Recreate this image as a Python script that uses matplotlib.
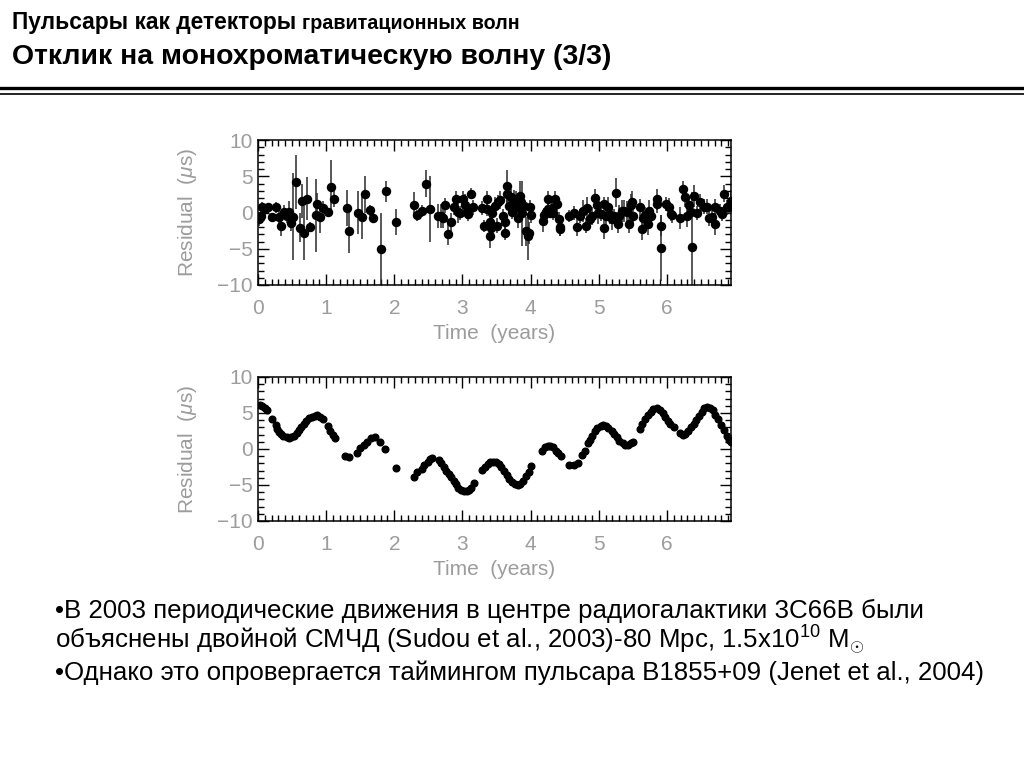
import numpy as np
import matplotlib.pyplot as plt
from matplotlib.ticker import MultipleLocator

plt.rcParams['font.family'] = ['Liberation Sans', 'DejaVu Sans']
plt.rcParams['mathtext.fontset'] = 'custom'
plt.rcParams['mathtext.rm'] = 'Liberation Sans'
plt.rcParams['mathtext.it'] = 'Liberation Sans:italic'

# Верхний график: остатки тайминга (данные с ошибками)
t_obs = [0.01, 0.04, 0.06, 0.10, 0.15, 0.21, 0.26, 0.31, 0.34, 0.38,
         0.42, 0.46, 0.49, 0.52, 0.56, 0.61, 0.64, 0.68, 0.72, 0.77,
         0.85, 0.87, 0.91, 0.95, 1.03, 1.07, 1.12, 1.30, 1.33, 1.46,
         1.53, 1.57, 1.64, 1.68, 1.80, 1.88, 2.02,
         2.29, 2.34, 2.40, 2.47, 2.52, 2.64, 2.68, 2.72, 2.75, 2.79,
         2.83, 2.87, 2.90, 2.94, 2.97, 3.01, 3.03, 3.06, 3.08, 3.12,
         3.16, 3.28, 3.32, 3.36, 3.36, 3.40, 3.40, 3.42, 3.44, 3.47,
         3.50, 3.52, 3.55, 3.59, 3.62, 3.62, 3.66, 3.66, 3.69, 3.71,
         3.73, 3.76, 3.78, 3.81, 3.82, 3.84, 3.86, 3.87, 3.91, 3.93,
         3.96, 3.98, 3.99, 4.01, 4.18, 4.20, 4.23, 4.25, 4.26, 4.29,
         4.31, 4.33, 4.36, 4.38, 4.41, 4.43, 4.43, 4.57, 4.64, 4.68,
         4.72,
         4.77, 4.81, 4.82, 4.87, 4.90, 4.94, 4.97, 4.99, 5.03, 5.07,
         5.07, 5.10, 5.14, 5.16, 5.19, 5.23, 5.25, 5.28, 5.30, 5.34,
         5.37, 5.41, 5.44, 5.47, 5.49, 5.50, 5.60, 5.64, 5.65, 5.68,
         5.72, 5.74, 5.77, 5.86, 5.86, 5.91, 5.91, 5.99, 6.03, 6.06,
         6.07, 6.19, 6.23, 6.26, 6.29, 6.33, 6.36, 6.37, 6.40, 6.44,
         6.49, 6.54, 6.59, 6.62, 6.66, 6.70, 6.71, 6.78, 6.81, 6.83,
         6.88, 6.91, 6.94]
res_obs = [-0.9, -0.5, 0.7, 0.5, 0.7, -0.6, 0.7, -0.6, -1.8, 0.1,
           -0.5, 0.1, -1.5, -0.6, 4.2, -2.1, 1.6, -2.8, 1.9, -2.0,
           -0.4, 1.2, -0.6, 0.6, 0.1, 3.5, 1.9, 0.6, -2.6, 0.0,
           -0.6, 2.5, 0.3, -0.7, -5.1, 2.9, -1.3,
           1.1, -0.4, 0.2, 4.0, 0.5, -0.5, -0.5, -0.7, 1.0, -3.0,
           -1.3, 0.7, 1.9, 0.1, -0.1, 1.9, 1.0, 0.1, -0.2, 2.6,
           0.7, 0.6, -1.9, 1.9, 0.5, -3.2, -1.3, -2.1, -0.1, 0.9,
           -1.8, 1.4, 1.7, -0.5, -1.3, -2.8, 3.6, 2.6, 0.9, 2.1,
           0.1, 1.9, 1.4, 0.7, -0.7, 2.3, 1.4, -0.1, 0.9, -2.6,
           -3.3, -2.8, 0.7, -0.4, -1.2, -0.4, 0.1, 0.5, 1.9, 0.0,
           0.6, -0.1, 1.9, 1.2, -0.9, -2.0, -2.3, -0.5, -0.1, -2.0,
           -0.5,
           0.2, -1.8, 0.6, -0.9, -0.5, 2.0, 1.0, -0.1, -0.2, 1.2,
           -2.2, -0.5, 0.7, -0.4, -0.9, -0.5, 2.7, -1.6, -0.5, 0.2,
           0.2, 0.1, -1.6, 1.0, 1.4, -0.5, 0.7, -2.3, -0.7, -0.4,
           -1.6, 0.2, -0.5, 1.8, 1.2, -1.8, -4.9, 1.2, 0.8, -0.2,
           -0.4, -0.8, 3.2, 2.2, -0.5, 1.0, 0.1, -4.7, 2.3, -0.1,
           1.4, 0.8, 0.8, -0.8, -0.6, 0.8, -1.6, 0.2, -0.2, 2.6,
           0.7, 0.8, 1.6]
err_obs = [1.0, 0.7, 0.7, 0.5, 0.5, 0.6, 0.8, 0.8, 1.5, 1.0,
           1.0, 1.5, 1.0, 6.0, 3.7, 2.0, 2.4, 3.7, 3.0, 0.7,
           5.0, 1.5, 2.2, 1.0, 0.5, 3.7, 1.2, 2.5, 3.0, 3.0,
           3.0, 2.5, 0.8, 0.8, 5.0, 1.5, 1.8,
           1.7, 0.8, 0.8, 1.8, 4.6, 1.7, 1.7, 1.5, 1.0, 1.5,
           1.2, 1.0, 1.0, 1.5, 1.0, 1.0, 1.5, 1.0, 1.0, 0.8,
           1.0, 1.0, 0.8, 1.0, 1.0, 1.7, 1.0, 1.0, 1.0, 1.2,
           1.0, 1.0, 1.2, 1.0, 1.0, 1.0, 2.2, 1.5, 1.0, 1.2,
           1.0, 1.2, 1.5, 1.0, 1.5, 2.0, 1.2, 4.5, 1.0, 2.0,
           3.3, 1.5, 1.0, 1.0, 1.5, 1.0, 0.8, 0.8, 1.0, 0.8,
           0.8, 1.0, 1.0, 1.0, 1.0, 1.2, 1.0, 0.8, 1.0, 1.2,
           1.0,
           1.5, 1.0, 1.5, 1.0, 1.2, 1.2, 1.5, 1.5, 1.0, 1.0,
           1.5, 1.5, 1.5, 1.2, 1.5, 1.0, 2.0, 1.2, 1.5, 1.5,
           1.5, 1.5, 1.2, 1.5, 1.5, 1.2, 1.2, 1.5, 1.2, 1.2,
           1.5, 1.5, 1.2, 1.5, 1.2, 1.5, 4.5, 1.0, 1.2, 1.0,
           1.0, 1.5, 1.2, 1.5, 1.5, 1.2, 1.0, 7.5, 1.5, 1.0,
           1.2, 1.0, 1.0, 1.0, 1.0, 1.0, 1.5, 1.0, 1.0, 1.2,
           1.0, 1.0, 1.5]

# Нижний график: отклик на монохроматическую волну
t_sim = [0.03, 0.06, 0.10, 0.13, 0.21, 0.26, 0.28, 0.31, 0.34, 0.37,
         0.42, 0.45, 0.49, 0.53, 0.57, 0.60, 0.63, 0.67, 0.71, 0.75,
         0.79, 0.83, 0.87, 0.91, 0.95, 1.02, 1.05, 1.10, 1.13,
         1.28, 1.34, 1.45, 1.50, 1.55, 1.60, 1.66, 1.71, 1.79, 1.87,
         2.02,
         2.29, 2.34, 2.40, 2.44, 2.49, 2.52, 2.56, 2.65, 2.68, 2.73,
         2.76, 2.80, 2.83, 2.87, 2.90, 2.94, 2.98, 3.02, 3.06, 3.09,
         3.13, 3.17,
         3.29, 3.33, 3.37, 3.41, 3.45, 3.49, 3.53, 3.57, 3.61, 3.65,
         3.69, 3.73, 3.77, 3.81, 3.85, 3.89, 3.93, 3.97, 4.01,
         4.17, 4.21, 4.25, 4.29, 4.33, 4.37, 4.40, 4.44,
         4.57, 4.63, 4.69, 4.76, 4.80, 4.84, 4.87, 4.90, 4.95, 4.98,
         5.03, 5.06, 5.11, 5.14, 5.19, 5.22, 5.27, 5.30, 5.35, 5.39,
         5.43, 5.47, 5.50,
         5.60, 5.64, 5.68, 5.72, 5.76, 5.80, 5.86, 5.90, 5.94, 5.97,
         6.02, 6.05, 6.10, 6.19, 6.23, 6.27, 6.31, 6.35, 6.39, 6.43,
         6.47, 6.51, 6.55, 6.59, 6.63, 6.67, 6.71, 6.75, 6.79, 6.83,
         6.88, 6.91, 6.94]
res_sim = [6.05, 5.95, 5.67, 5.35, 4.19, 3.35, 2.8, 2.4, 2.1, 1.86,
           1.63, 1.53, 1.63, 1.86, 2.2, 2.65, 3.0, 3.5, 3.95, 4.3,
           4.5, 4.65, 4.74, 4.4, 4.2, 3.16, 2.56, 1.95, 1.5,
           -0.93, -1.16, -0.56, 0.1, 0.56, 1.0, 1.5, 1.63, 1.0, 0.0,
           -2.7,
           -3.86, -3.26, -2.8, -2.23, -1.77, -1.4, -1.3, -1.53, -1.95, -2.47,
           -3.0, -3.5, -3.95, -4.4, -4.9, -5.35, -5.67, -5.9, -5.9, -5.7,
           -5.35, -4.74,
           -2.88, -2.47, -2.1, -1.86, -1.77, -1.86, -2.14, -2.56, -3.0, -3.58,
           -4.1, -4.56, -4.9, -5.0, -4.9, -4.4, -3.7, -3.16, -2.4,
           -0.23, 0.23, 0.46, 0.46, 0.23, -0.23, -0.56, -0.93,
           -2.2, -2.23, -1.95, -0.84, -0.23, 0.84, 1.3, 1.86, 2.47, 2.93,
           3.26, 3.35, 3.26, 2.93, 2.56, 2.1, 1.63, 1.16, 0.84, 0.6,
           0.6, 0.84, 1.0,
           2.8, 3.5, 4.19, 4.74, 5.2, 5.58, 5.67, 5.44, 4.98, 4.42,
           3.95, 3.5, 3.0, 2.19, 2.0, 2.1, 2.56, 3.0, 3.5, 4.05,
           4.65, 5.2, 5.67, 5.81, 5.72, 5.35, 4.74, 4.1, 3.35, 2.65,
           1.86, 1.3, 1.0]

x_ticks = [0, 1, 2, 3, 4, 5, 6]
y_ticks = [-10, -5, 0, 5, 10]

fig = plt.figure(figsize=(10.24, 7.68), dpi=100)
W, H = 1024.0, 768.0

lab_col = '#9c9c9c'


def setup_axes(ax):
    ax.set_xlim(0, 6.94)
    ax.set_ylim(-10, 10)
    ax.set_xticks(x_ticks)
    ax.set_yticks(y_ticks)
    ax.xaxis.set_minor_locator(MultipleLocator(0.1))
    ax.yaxis.set_minor_locator(MultipleLocator(1))
    ax.tick_params(which='both', direction='in', top=True, right=True,
                   color='black', labelcolor=lab_col, labelsize=15, width=1.0)
    ax.tick_params(which='major', length=8)
    ax.tick_params(which='minor', length=4)
    ax.tick_params(axis='x', pad=10)
    ax.tick_params(axis='y', pad=4)
    for s in ax.spines.values():
        s.set_linewidth(1.1)
    ax.set_xlabel('Time  (years)', color=lab_col, fontsize=15, va='top')
    ax.set_ylabel(r'Residual  ($\mu$s)', color=lab_col, fontsize=15)
    ax.xaxis.set_label_coords(0.5, -0.27)
    ax.yaxis.set_label_coords(-0.125, 0.5)


ax1 = fig.add_axes([258 / W, 1 - 285 / H, 473 / W, 145 / H])
setup_axes(ax1)
ax1.errorbar(t_obs, res_obs, yerr=err_obs, fmt='o', color='black',
             ecolor='#2a2a2a', elinewidth=1.1, ms=5.8, capsize=0)

ax2 = fig.add_axes([258 / W, 1 - 521 / H, 473 / W, 144 / H])
setup_axes(ax2)
ax2.plot(t_sim, res_sim, 'o', color='black', ms=4.8)

# Заголовок слайда
t1 = fig.text(12 / W, 1 - 29 / H, 'Пульсары как детекторы', fontsize=16.4,
              fontweight='bold', va='baseline')
fig.canvas.draw()
bb = t1.get_window_extent()
fig.text((bb.x1 + 6) / W, 1 - 29 / H, 'гравитационных волн', fontsize=14.2,
         fontweight='bold', va='baseline')
fig.text(12 / W, 1 - 64 / H, 'Отклик на монохроматическую волну (3/3)',
         fontsize=20.4, fontweight='bold', va='baseline')

fig.add_artist(plt.Line2D([0, 1], [1 - 88 / H, 1 - 88 / H], color='black', lw=2.4))
fig.add_artist(plt.Line2D([0, 1], [1 - 94 / H, 1 - 94 / H], color='black', lw=1.2))

# Текст под графиками
fs_body = 18.6
fig.text(55 / W, 1 - 618 / H,
         '•В 2003 периодические движения в центре радиогалактики 3C66B были',
         fontsize=fs_body, va='baseline')
fig.text(55 / W, 1 - 649 / H,
         r'объяснены двойной СМЧД (Sudou et al., 2003)-80 Mpc, 1.5x10$^{10}$ M$_{\odot}$',
         fontsize=fs_body, va='baseline')
fig.text(55 / W, 1 - 680 / H,
         '•Однако это опровергается таймингом пульсара B1855+09 (Jenet et al., 2004)',
         fontsize=fs_body, va='baseline')

fig.savefig('out.png', dpi=100)
